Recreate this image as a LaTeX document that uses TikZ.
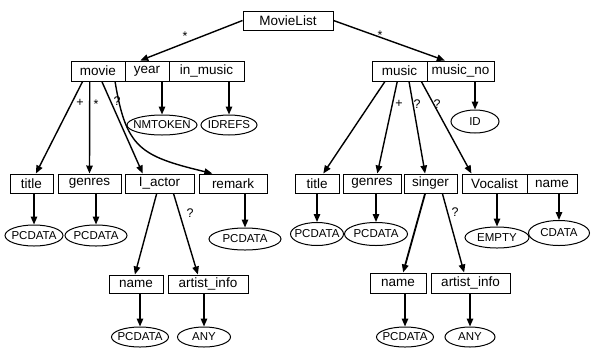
\documentclass[tikz,border=0pt]{standalone}
\usepackage{fontspec}
\setmainfont{Liberation Sans}
\usetikzlibrary{shapes.geometric,arrows.meta,calc}
\begin{document}
\begin{tikzpicture}[x=1pt,y=-1pt,
  bx/.style={draw, line width=1pt, inner sep=0pt, font=\fontsize{13.5}{13.5}\selectfont},
  el/.style={draw, ellipse, line width=1pt, inner xsep=-7pt, inner ysep=-2pt, font=\fontsize{11.5}{11.5}\selectfont},
  arr/.style={line width=1.4pt, -{Triangle[length=8pt,width=6.5pt]}},
  lbl/.style={font=\fontsize{12.5}{12.5}\selectfont, inner sep=0pt}]
\useasboundingbox (0,0) rectangle (596,349);
\fill[white] (0,0) rectangle (596,349);

% top
\node[bx, minimum width=90pt, minimum height=19pt] (ml) at (288,20.5) {MovieList};

% movie record
\node[bx, minimum width=54pt, minimum height=20pt] (movie) at (98,71) {movie};
\node[bx, minimum width=44pt, minimum height=20pt] (year) at (147,71) {year};
\node[bx, minimum width=75pt, minimum height=20pt] (inmusic) at (206.5,71) {in\_music};
\node[el, minimum width=70pt, minimum height=20pt] (nmtoken) at (162,125) {NMTOKEN};
\node[el, minimum width=56pt, minimum height=20pt] (idrefs) at (229,125) {IDREFS};

% music record
\node[bx, minimum width=55pt, minimum height=20pt] (music) at (399.5,71) {music};
\node[bx, minimum width=67pt, minimum height=20pt] (musicno) at (460.5,71) {music\_no};
\node[el, minimum width=48pt, minimum height=23pt] (id) at (475,121.5) {ID};

% second row left
\node[bx, minimum width=43pt, minimum height=19pt] (title1) at (31.5,183.5) {title};
\node[bx, minimum width=63pt, minimum height=19pt] (genres1) at (89.5,183.5) {genres};
\node[bx, minimum width=69pt, minimum height=19pt] (iactor) at (159.5,183.5) {I\_actor};
\node[bx, minimum width=68pt, minimum height=19pt] (remark) at (233,183.5) {remark};
\node[el, minimum width=58pt, minimum height=21pt] (pc1) at (34,235.5) {PCDATA};
\node[el, minimum width=62pt, minimum height=21pt] (pc2) at (96,235.5) {PCDATA};
\node[el, minimum width=72pt, minimum height=22pt] (pc3) at (245,239) {PCDATA};

% second row right
\node[bx, minimum width=44pt, minimum height=19pt] (title2) at (317,183.5) {title};
\node[bx, minimum width=58pt, minimum height=19pt] (genres2) at (372,183.5) {genres};
\node[bx, minimum width=53pt, minimum height=19pt] (singer) at (430.5,183.5) {singer};
\node[bx, minimum width=65pt, minimum height=19pt] (vocalist) at (494.5,183.5) {Vocalist};
\node[bx, minimum width=50pt, minimum height=19pt] (name3) at (552,183.5) {name};
\node[el, minimum width=53pt, minimum height=23pt] (pc4) at (317,234) {PCDATA};
\node[el, minimum width=63pt, minimum height=23pt] (pc5) at (376,234) {PCDATA};
\node[el, minimum width=64pt, minimum height=21pt] (empty) at (497,237.5) {EMPTY};
\node[el, minimum width=61pt, minimum height=25pt] (cdata) at (559,233) {CDATA};

% third row left
\node[bx, minimum width=54pt, minimum height=18pt] (name1) at (136,284) {name};
\node[bx, minimum width=80pt, minimum height=18pt] (ainfo1) at (208,284) {artist\_info};
\node[el, minimum width=57pt, minimum height=20pt] (pc6) at (140,337) {PCDATA};
\node[el, minimum width=53pt, minimum height=20pt] (any1) at (204,337) {ANY};

% third row right
\node[bx, minimum width=56pt, minimum height=20pt] (name2) at (398,283) {name};
\node[bx, minimum width=79pt, minimum height=20pt] (ainfo2) at (470.5,283) {artist\_info};
\node[el, minimum width=57pt, minimum height=20pt] (pc7) at (405,337) {PCDATA};
\node[el, minimum width=50pt, minimum height=20pt] (any2) at (470,337) {ANY};

% connectors from MovieList
\draw[arr] (ml.west) -- ($(year.north west)!0.35!(year.north east)$);
\node[lbl] (s1) at (185,36) {*};
\draw[arr] (ml.east) -- ($(musicno.north west)!0.27!(musicno.north east)$);
\node[lbl] (s2) at (380,35) {*};

% movie attributes
\draw[arr] (year.south -| nmtoken.north) -- (nmtoken.north);
\draw[arr] (inmusic.south -| idrefs.north) -- (idrefs.north);

% movie children
\draw[arr] ($(movie.south west)!0.22!(movie.south east)$) -- ($(title1.north west)!0.6!(title1.north east)$);
\draw[arr] ($(movie.south west)!0.35!(movie.south east)$) -- (genres1.north);
\draw[arr] ($(movie.south west)!0.57!(movie.south east)$) -- ($(iactor.north west)!0.26!(iactor.north east)$);
\draw[arr] ($(movie.south west)!0.81!(movie.south east)$) .. controls (126,148) and (140,156) .. ($(remark.north west)!0.2!(remark.north east)$);
\node[lbl] (p1) at (80,103) {+};
\node[lbl] (s3) at (96,104) {*};
\node[lbl] (q1) at (117,101) {?};

% music children
\draw[arr] (musicno.south -| id.north) -- (id.north);
\draw[arr] ($(music.south west)!0.24!(music.south east)$) -- ($(title2.north west)!0.64!(title2.north east)$);
\draw[arr] ($(music.south west)!0.46!(music.south east)$) -- ($(genres2.north west)!0.59!(genres2.north east)$);
\draw[arr] ($(music.south west)!0.67!(music.south east)$) -- ($(singer.north west)!0.4!(singer.north east)$);
\draw[arr] ($(music.south west)!0.89!(music.south east)$) -- ($(vocalist.north west)!0.15!(vocalist.north east)$);
\node[lbl] (p2) at (399,104) {+};
\node[lbl] (q2) at (417,104) {?};
\node[lbl] (q3) at (437,104) {?};

% row 2 to ellipses
\draw[arr] (title1.south -| pc1.north) -- (pc1.north);
\draw[arr] (genres1.south -| pc2.north) -- (pc2.north);
\draw[arr] (remark.south -| pc3.north) -- (pc3.north);
\draw[arr] (title2.south -| pc4.north) -- (pc4.north);
\draw[arr] (genres2.south -| pc5.north) -- (pc5.north);
\draw[arr] (vocalist.south -| empty.north) -- (empty.north);
\draw[arr] (name3.south -| cdata.north) -- (cdata.north);

% I_actor children
\draw[arr] ($(iactor.south west)!0.46!(iactor.south east)$) -- ($(name1.north west)!0.48!(name1.north east)$);
\draw[arr] ($(iactor.south west)!0.7!(iactor.south east)$) -- ($(ainfo1.north west)!0.375!(ainfo1.north east)$);
\node[lbl] (q4) at (190,213) {?};

% singer children
\draw[arr, line width=1.8pt] ($(singer.south west)!0.4!(singer.south east)$) -- ($(name2.north west)!0.59!(name2.north east)$);
\draw[arr] ($(singer.south west)!0.72!(singer.south east)$) -- ($(ainfo2.north west)!0.42!(ainfo2.north east)$);
\node[lbl] (q5) at (455,212) {?};

% row 3 to ellipses
\draw[arr] (name1.south -| pc6.north) -- (pc6.north);
\draw[arr] (ainfo1.south -| any1.north) -- (any1.north);
\draw[arr] (name2.south -| pc7.north) -- (pc7.north);
\draw[arr] (ainfo2.south -| any2.north) -- (any2.north);
\end{tikzpicture}
\end{document}
